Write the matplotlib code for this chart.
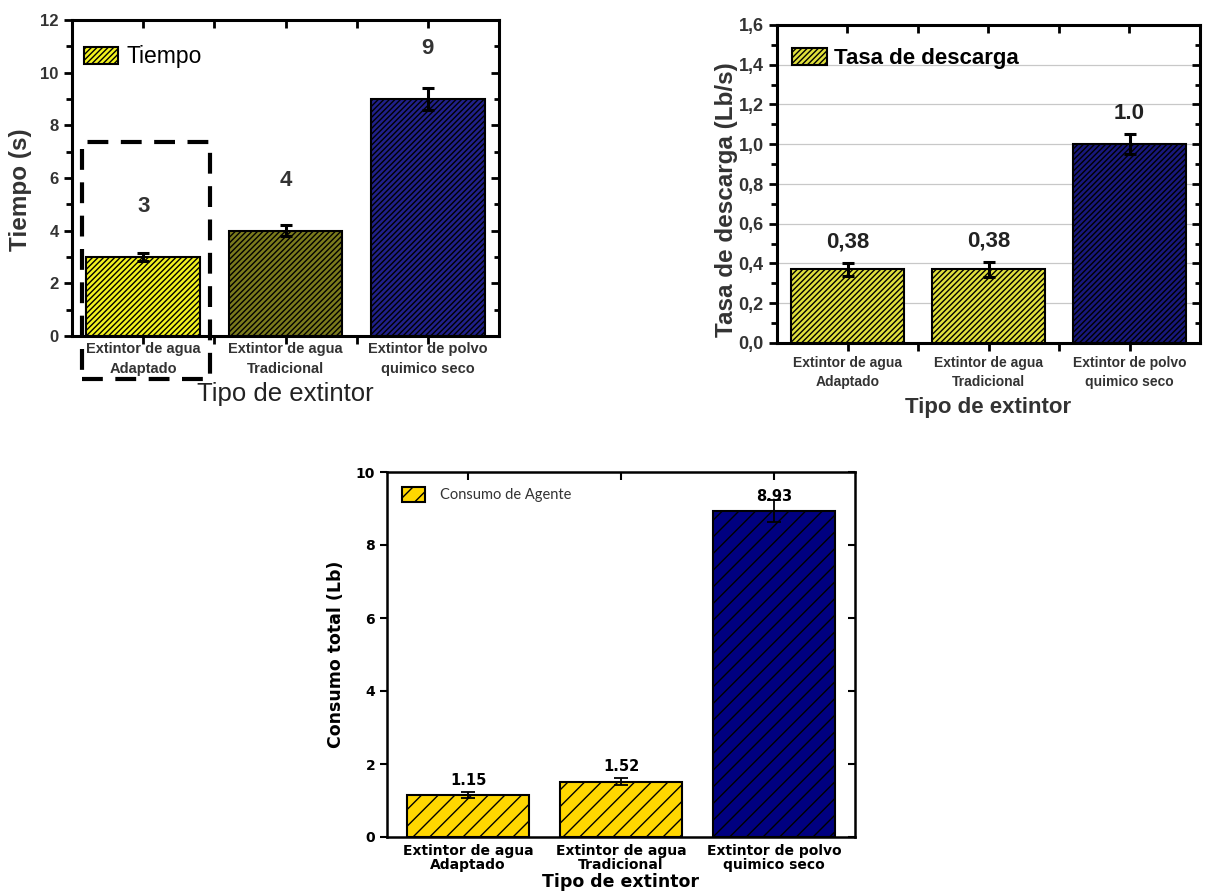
import matplotlib
matplotlib.use('Agg')
import matplotlib.pyplot as plt
from matplotlib.patches import Rectangle
from matplotlib.ticker import MultipleLocator, FixedLocator, FuncFormatter

# Data
categorias = ['Extintor de agua\nAdaptado', 'Extintor de agua\nTradicional',
              'Extintor de polvo\nquimico seco']

tiempo = [3, 4, 9]
tiempo_err = [0.15, 0.2, 0.4]
tiempo_txt = ['3', '4', '9']

tasa = [0.37, 0.37, 1.0]
tasa_err = [0.035, 0.04, 0.05]
tasa_txt = ['0,38', '0,38', '1.0']

consumo = [1.15, 1.52, 8.93]
consumo_err = [0.08, 0.09, 0.3]

W, H = 1205, 892
plt.rcParams['hatch.linewidth'] = 1.0

fig = plt.figure(figsize=(W / 100, H / 100), dpi=100)


def px_axes(left, top, right, bottom):
    """Axes from a pixel box of the figure."""
    return fig.add_axes([left / W, 1 - bottom / H, (right - left) / W, (bottom - top) / H])


def right_ticks(ax, major, minor=None, lmaj=6, lmin=3.5, w=1.5):
    # inward ticks on the right side, through a twin axes
    tw = ax.twinx()
    tw.set_ylim(ax.get_ylim())
    tw.yaxis.set_major_locator(MultipleLocator(major))
    if minor:
        tw.yaxis.set_minor_locator(MultipleLocator(minor))
    tw.tick_params(which='major', direction='in', length=lmaj, width=w, labelright=False)
    tw.tick_params(which='minor', direction='in', length=lmin, width=w)
    for s in tw.spines.values():
        s.set_visible(False)
    return tw


def top_ticks(ax, lmaj=6, w=1.5, minor=True):
    tw = ax.twiny()
    tw.set_xlim(ax.get_xlim())
    tw.xaxis.set_major_locator(FixedLocator([0, 1, 2]))
    if minor:
        tw.xaxis.set_minor_locator(FixedLocator([0.5, 1.5]))
    tw.tick_params(which='both', direction='in', length=lmaj, width=w, labeltop=False)
    for s in tw.spines.values():
        s.set_visible(False)
    return tw


x = range(len(categorias))
arial = 'Liberation Sans'

# ---------------- Chart 1: Tiempo ----------------
ax1 = px_axes(72, 20, 499, 336)
ax1.bar(x, tiempo, width=0.8, color=['#f2f21e', '#7a7a1c', '#20208a'],
        edgecolor='black', linewidth=1.5, hatch='//////', label='Tiempo', zorder=2)
ax1.errorbar(x, tiempo, yerr=tiempo_err, fmt='none', ecolor='black',
             elinewidth=2.2, capsize=4, capthick=2.2, zorder=3)
for xi, v, t in zip(x, tiempo, tiempo_txt):
    ax1.text(xi, v + 1.9, t, ha='center', va='center', fontsize=16,
             fontweight='bold', color='#333333', family=arial)
ax1.set_xlim(-0.5, 2.5)
ax1.set_ylim(0, 12)
ax1.yaxis.set_major_locator(MultipleLocator(2))
ax1.yaxis.set_minor_locator(MultipleLocator(1))
ax1.set_xticks(list(x))
ax1.set_xticklabels(categorias, fontsize=10.5, fontweight='bold', color='#333333',
                    family=arial, linespacing=1.6)
ax1.xaxis.set_minor_locator(FixedLocator([0.5, 1.5]))
ax1.tick_params(axis='y', which='major', direction='out', length=6, width=2,
                labelsize=12, labelcolor='#333333')
ax1.tick_params(axis='y', which='minor', direction='out', length=4, width=2)
ax1.tick_params(axis='x', which='both', direction='out', length=6, width=2, pad=-2)
for lab in ax1.get_yticklabels():
    lab.set_fontweight('bold')
    lab.set_family(arial)
for s in ax1.spines.values():
    s.set_linewidth(2.2)
ax1.set_ylabel('Tiempo (s)', fontsize=17.5, fontweight='bold', color='#333333', family=arial)
ax1.yaxis.set_label_coords(-0.094, 0.462)
ax1.set_xlabel('Tipo de extintor', fontsize=18.5, color='#222222', family=arial, labelpad=4)
ax1.legend(loc='upper left', bbox_to_anchor=(-0.021, 0.985), frameon=False,
           handlelength=1.5, handleheight=0.75, handletextpad=0.35,
           prop={'family': arial, 'size': 16.5})
# dashed box around the first bar
ax1.add_patch(Rectangle((-0.43, -1.63), 0.9, 9.0, fill=False, edgecolor='black',
                        linewidth=3, linestyle=(0, (5, 3)), clip_on=False, zorder=5))
right_ticks(ax1, 2, 1, w=2)
top_ticks(ax1, w=2)

# ---------------- Chart 2: Tasa de descarga ----------------
ax2 = px_axes(777, 25, 1200, 343)
ax2.bar(x, tasa, width=0.8, color=['#e0e03c', '#e0e03c', '#18187c'],
        edgecolor='black', linewidth=1.5, hatch='//////', label='Tasa de descarga', zorder=2)
ax2.errorbar(x, tasa, yerr=tasa_err, fmt='none', ecolor='black',
             elinewidth=2.2, capsize=4, capthick=2.2, zorder=3)
for xi, v, e, t in zip(x, tasa, tasa_err, tasa_txt):
    ax2.text(xi, v + e + 0.05, t, ha='center', va='bottom', fontsize=16,
             fontweight='bold', color='#222222', family=arial)
ax2.set_xlim(-0.5, 2.5)
ax2.set_ylim(0, 1.6)
ax2.yaxis.set_major_locator(MultipleLocator(0.2))
ax2.yaxis.set_minor_locator(MultipleLocator(0.1))
ax2.yaxis.set_major_formatter(FuncFormatter(lambda v, p: f'{v:.1f}'.replace('.', ',')))
ax2.grid(axis='y', which='major', color='#c8c8c8', linewidth=0.9, zorder=0)
ax2.set_axisbelow(True)
ax2.set_xticks(list(x))
ax2.set_xticklabels(categorias, fontsize=10, fontweight='bold', color='#333333',
                    family=arial, linespacing=1.5)
ax2.xaxis.set_minor_locator(FixedLocator([0.5, 1.5]))
ax2.tick_params(axis='y', which='major', direction='out', length=6, width=2,
                labelsize=13, labelcolor='#333333')
ax2.tick_params(axis='y', which='minor', direction='out', length=4, width=2)
ax2.tick_params(axis='x', which='both', direction='out', length=6, width=2, pad=3)
for lab in ax2.get_yticklabels():
    lab.set_fontweight('bold')
    lab.set_family(arial)
for s in ax2.spines.values():
    s.set_linewidth(2.2)
ax2.set_ylabel('Tasa de descarga (Lb/s)', fontsize=17.5, fontweight='bold', color='#333333',
               family=arial)
ax2.yaxis.set_label_coords(-0.092, 0.45)
ax2.set_xlabel('Tipo de extintor', fontsize=16, fontweight='bold', color='#333333',
               family=arial, labelpad=6)
ax2.legend(loc='upper left', bbox_to_anchor=(-0.012, 0.99), frameon=False,
           handlelength=1.6, handleheight=0.8, handletextpad=0.3,
           prop={'family': arial, 'size': 16, 'weight': 'bold'})
right_ticks(ax2, 0.2, 0.1, w=2)
top_ticks(ax2, w=2)

# ---------------- Chart 3: Consumo de agente ----------------
ax3 = px_axes(387, 472, 855, 837)
ax3.bar(x, consumo, width=0.8, color=['#ffd700', '#ffd700', '#000080'],
        edgecolor='black', linewidth=1.5, hatch='//', label='Consumo de Agente', zorder=2)
ax3.errorbar(x, consumo, yerr=consumo_err, fmt='none', ecolor='black',
             elinewidth=1.3, capsize=5, capthick=1.3, zorder=3)
for xi, v in zip(x, consumo):
    ax3.text(xi, v + 0.4, f'{v:.2f}', ha='center', va='center', fontsize=10.5,
             fontweight='bold')
ax3.set_xlim(-0.53, 2.53)
ax3.set_ylim(0, 10)
ax3.yaxis.set_major_locator(MultipleLocator(2))
ax3.set_xticks(list(x))
ax3.set_xticklabels(categorias, fontsize=10, fontweight='bold', linespacing=1.0)
ax3.tick_params(axis='x', direction='in', length=6, width=1.5, pad=5)
ax3.tick_params(axis='y', direction='out', length=5, width=1.5, labelsize=10)
for lab in ax3.get_yticklabels():
    lab.set_fontweight('bold')
for s in ax3.spines.values():
    s.set_linewidth(1.8)
ax3.set_ylabel('Consumo total (Lb)', fontsize=12.5, fontweight='bold', labelpad=8)
ax3.set_xlabel('Tipo de extintor', fontsize=12.5, fontweight='bold', labelpad=1)
ax3.legend(loc='upper left', frameon=False, handlelength=1.6, handleheight=1.2,
           handletextpad=1.0, borderaxespad=0.6, labelcolor='#333333',
           prop={'family': 'Lato', 'size': 10.5})
right_ticks(ax3, 2, lmaj=5, w=1.5)
top_ticks(ax3, lmaj=6, w=1.5, minor=False)

fig.savefig('out.png', dpi=100)
